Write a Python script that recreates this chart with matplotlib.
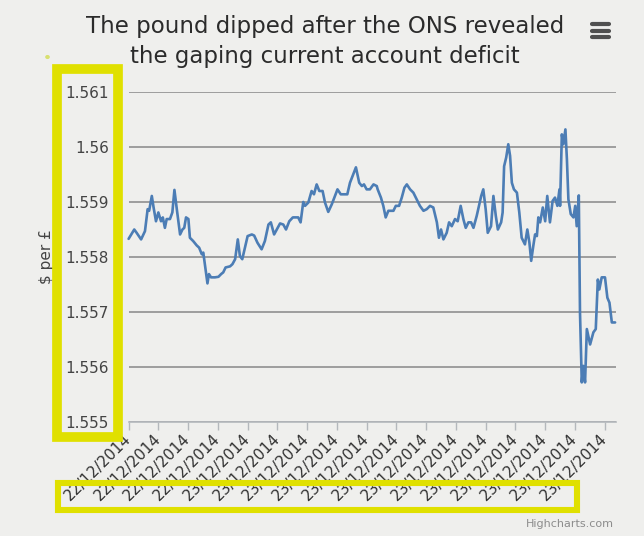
import matplotlib
matplotlib.use("Agg")
import matplotlib.pyplot as plt
from matplotlib.patches import Rectangle, Circle
from matplotlib.lines import Line2D

# ---------------- data ----------------
title_line1 = "The pound dipped after the ONS revealed"
title_line2 = "the gaping current account deficit"
y_title = "$ per £"
credit = "Highcharts.com"

# elapsed time, measured in x-axis tick intervals from the first tick
time_ticks = [0.00, 0.19, 0.27, 0.42, 0.55, 0.64, 0.69, 0.78, 0.84, 0.92,
              1.00, 1.09, 1.15, 1.22, 1.28, 1.39, 1.47, 1.54, 1.62, 1.73,
              1.81, 1.87, 1.93, 2.01, 2.06, 2.17, 2.29, 2.37, 2.46, 2.51,
              2.57, 2.65, 2.70, 2.77, 2.90, 3.02, 3.11, 3.18, 3.26, 3.41,
              3.49, 3.58, 3.67, 3.74, 3.82, 3.91, 4.00, 4.14,
              4.22, 4.33, 4.47, 4.58, 4.70, 4.78, 4.89, 4.98, 5.09, 5.20,
              5.29, 5.40, 5.52, 5.70, 5.78, 5.87, 5.93, 6.04, 6.15, 6.23,
              6.32, 6.41, 6.52, 6.60, 6.71, 6.83, 7.02, 7.13, 7.35, 7.44,
              7.64, 7.75, 7.84, 7.91, 8.00, 8.11, 8.23, 8.34,
              8.37, 8.48, 8.56, 8.64, 8.73, 8.90, 8.98, 9.09, 9.18, 9.27,
              9.35, 9.46, 9.57, 9.68, 9.79, 9.91, 10.02, 10.13, 10.24, 10.36,
              10.43, 10.50, 10.58, 10.69, 10.77, 10.86, 10.97, 11.06, 11.16, 11.25,
              11.33, 11.42, 11.51, 11.59, 11.70, 11.85, 11.92, 12.00, 12.07, 12.18,
              12.26, 12.34, 12.41, 12.52,
              12.57, 12.62, 12.69, 12.76, 12.82, 12.88, 12.95, 13.05, 13.13, 13.21,
              13.32, 13.40, 13.47, 13.53, 13.60, 13.66, 13.72, 13.77, 13.83, 13.92,
              14.00, 14.07, 14.16, 14.25, 14.33, 14.41, 14.48, 14.50, 14.56, 14.61,
              14.68, 14.73, 14.78, 14.86, 14.95, 15.01, 15.06, 15.13, 15.17, 15.23,
              15.28, 15.34, 15.40, 15.51, 15.62, 15.70, 15.77, 15.82, 15.90, 16.01,
              16.09, 16.16, 16.24, 16.35]

usd_per_gbp = [1.55833, 1.55850, 1.55844, 1.55832, 1.55847, 1.55887, 1.55884, 1.55911, 1.55890, 1.55865,
               1.55881, 1.55865, 1.55872, 1.55853, 1.55869, 1.55869, 1.55881, 1.55922, 1.55887, 1.55841,
               1.55850, 1.55853, 1.55872, 1.55869, 1.55835, 1.55829, 1.55821, 1.55817, 1.55805, 1.55808,
               1.55784, 1.55752, 1.55769, 1.55763, 1.55763, 1.55764, 1.55769, 1.55772, 1.55781, 1.55783,
               1.55787, 1.55796, 1.55832, 1.55802, 1.55796, 1.55817, 1.55838, 1.55841,
               1.55839, 1.55826, 1.55814, 1.55829, 1.55859, 1.55863, 1.55841, 1.55850, 1.55861, 1.55859,
               1.55850, 1.55865, 1.55872, 1.55872, 1.55863, 1.55900, 1.55893, 1.55899, 1.55920, 1.55914,
               1.55932, 1.55920, 1.55920, 1.55899, 1.55882, 1.55896, 1.55923, 1.55914, 1.55914, 1.55935,
               1.55963, 1.55935, 1.55929, 1.55932, 1.55923, 1.55923, 1.55932, 1.55929,
               1.55923, 1.55908, 1.55893, 1.55872, 1.55884, 1.55884, 1.55893, 1.55893, 1.55908, 1.55926,
               1.55932, 1.55923, 1.55917, 1.55905, 1.55893, 1.55884, 1.55887, 1.55893, 1.55890, 1.55863,
               1.55835, 1.55850, 1.55832, 1.55844, 1.55863, 1.55856, 1.55869, 1.55865, 1.55893, 1.55869,
               1.55853, 1.55863, 1.55863, 1.55853, 1.55875, 1.55911, 1.55923, 1.55887, 1.55844, 1.55856,
               1.55911, 1.55875, 1.55850, 1.55863,
               1.55881, 1.55965, 1.55981, 1.56005, 1.55984, 1.55935, 1.55923, 1.55917, 1.55881, 1.55835,
               1.55823, 1.55850, 1.55826, 1.55793, 1.55820, 1.55841, 1.55838, 1.55872, 1.55863, 1.55890,
               1.55865, 1.55911, 1.55863, 1.55902, 1.55908, 1.55893, 1.55923, 1.55893, 1.56023, 1.56005,
               1.56032, 1.55978, 1.55905, 1.55878, 1.55872, 1.55893, 1.55856, 1.55912, 1.55699, 1.55572,
               1.55602, 1.55572, 1.55669, 1.55641, 1.55663, 1.55669, 1.55759, 1.55741, 1.55763, 1.55763,
               1.55726, 1.55717, 1.55681, 1.55681]

tick_labels = ["22/12/2014"] * 4 + ["23/12/2014"] * 13
y_ticks = [1.555, 1.556, 1.557, 1.558, 1.559, 1.56, 1.561]
y_tick_labels = ["1.555", "1.556", "1.557", "1.558", "1.559", "1.56", "1.561"]

# ---------------- figure ----------------
W, H, DPI = 644, 536, 100
BG = "#efefed"
plt.rcParams["font.family"] = ["DejaVu Sans"]

fig = plt.figure(figsize=(W / DPI, H / DPI), dpi=DPI, facecolor=BG)


def fx(px):
    return px / W


def fy(py):
    return 1 - py / H


ax = fig.add_axes([fx(128.6), fy(422), fx(615.7) - fx(128.6), fy(92) - fy(422)])
ax.set_facecolor(BG)

ax.plot(time_ticks, usd_per_gbp, color="#4c7db5", lw=1.9,
        solid_joinstyle="round", solid_capstyle="round", zorder=3, clip_on=False)

ax.set_xlim(0, 16.37)
ax.set_ylim(1.555, 1.561)
ax.set_yticks(y_ticks)
ax.set_yticklabels(y_tick_labels)
ax.yaxis.grid(True, color="#979797", lw=1.3)
ax.set_axisbelow(True)

ax.set_xticks(range(len(tick_labels)))
ax.set_xticklabels(tick_labels, rotation=45, ha="right", va="center",
                   rotation_mode="anchor")

for s in ["top", "right", "left"]:
    ax.spines[s].set_visible(False)
ax.spines["bottom"].set_color("#b4b8bc")
ax.spines["bottom"].set_linewidth(1.2)
ax.spines["bottom"].set_zorder(4)

ax.tick_params(axis="y", length=0, pad=14, labelsize=11, labelcolor="#444444")
ax.tick_params(axis="x", length=5.5, width=1, color="#b4b8bc", pad=5,
               labelsize=11, labelcolor="#333333", direction="out")

# y axis title
fig.text(fx(46), fy(257), y_title, rotation=90, ha="center", va="center",
         fontsize=11, color="#444444")

# title
fig.text(fx(325), fy(33.3), title_line1, ha="center", va="baseline",
         fontsize=16.5, color="#2b2b2b")
fig.text(fx(325), fy(63.3), title_line2, ha="center", va="baseline",
         fontsize=16.5, color="#2b2b2b")

# credit
fig.text(fx(614), fy(527), credit, ha="right", va="baseline",
         fontsize=8, color="#8c8c8c")

# menu (hamburger) icon
for yy in (24.0, 30.5, 37.0):
    fig.add_artist(Line2D([fx(592), fx(609)], [fy(yy), fy(yy)], lw=3.0,
                          color="#505050", solid_capstyle="round",
                          transform=fig.transFigure))

# yellow highlight boxes
YEL = "#e0e000"
fig.add_artist(Rectangle((fx(56.7), fy(437)), fx(117.7) - fx(56.7), fy(69) - fy(437),
                         transform=fig.transFigure, fill=False, edgecolor=YEL,
                         lw=7.0, zorder=20))
fig.add_artist(Rectangle((fx(58), fy(509.5)), fx(577) - fx(58), fy(483) - fy(509.5),
                         transform=fig.transFigure, fill=False, edgecolor=YEL,
                         lw=4.4, zorder=20))
fig.add_artist(Circle((fx(47.5), fy(57)), 1.6 / W, transform=fig.transFigure,
                      color="#d8e070", zorder=20))

fig.savefig("out.png", dpi=DPI, facecolor=BG)
